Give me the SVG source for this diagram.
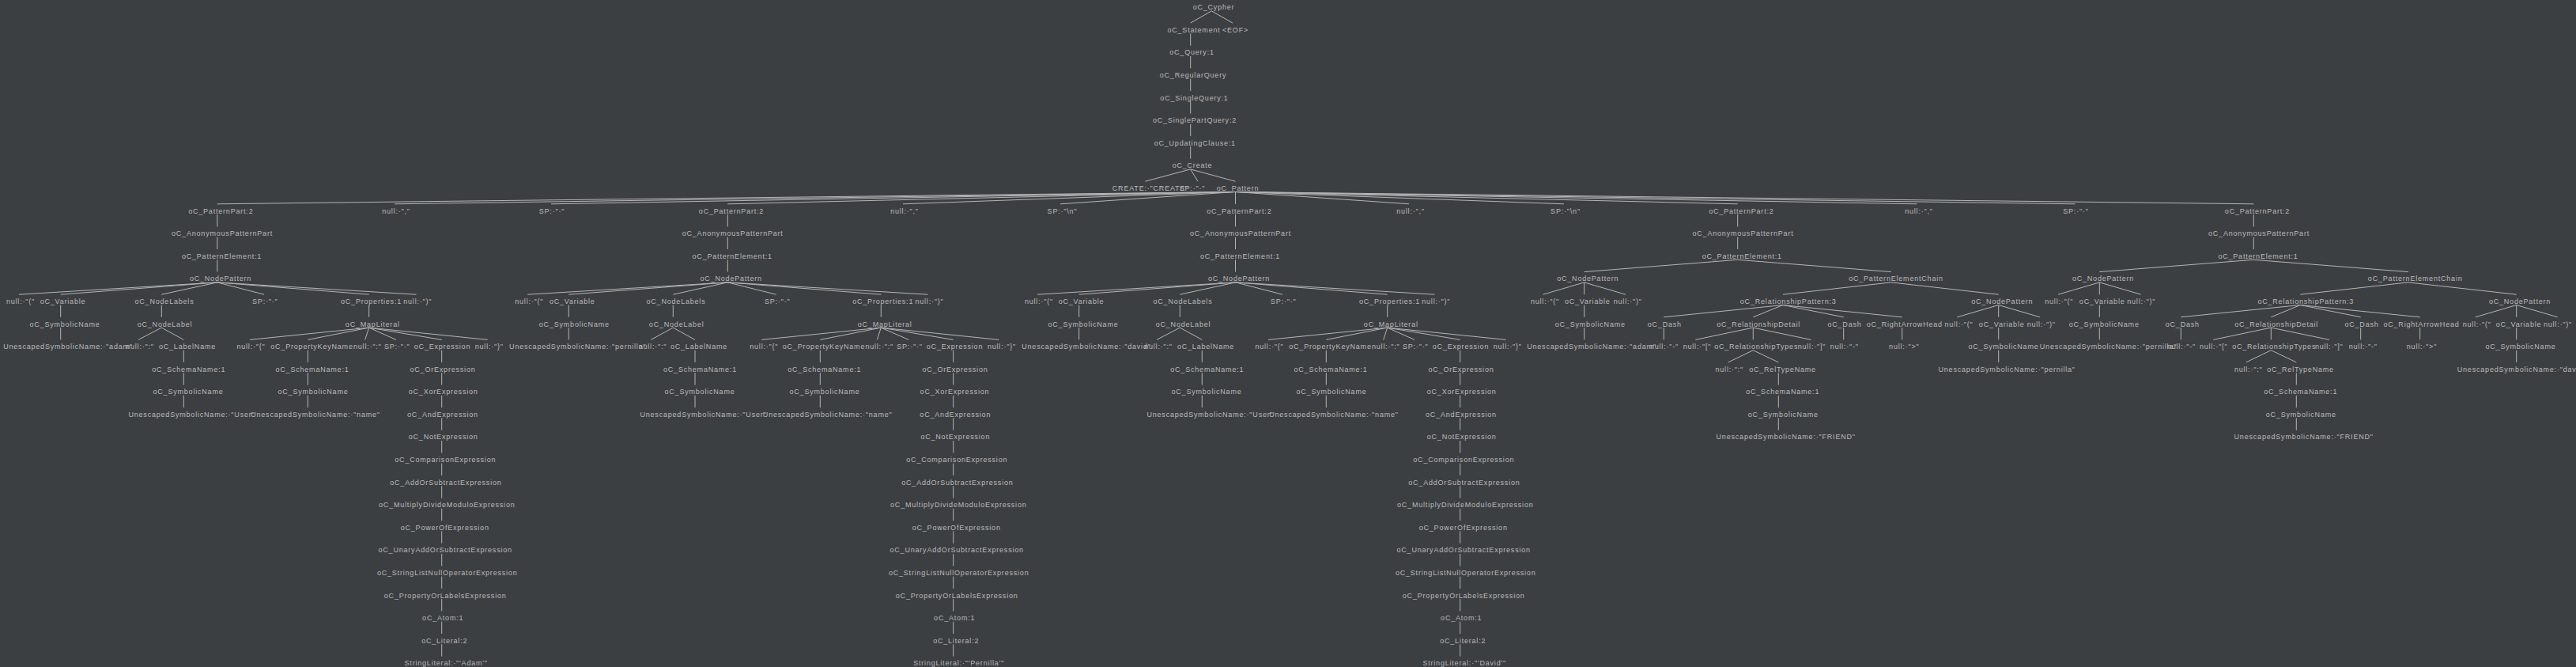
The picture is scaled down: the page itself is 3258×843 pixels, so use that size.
<svg xmlns="http://www.w3.org/2000/svg" width="3258" height="843" viewBox="0 0 3258 843">
<style>
text{font-family:"Liberation Sans",Arial,sans-serif;font-size:9px;letter-spacing:0.8px;fill:#bbbbbb;text-anchor:middle}
line{stroke:#b4b4b4;stroke-width:1}
</style>
<rect x="0" y="0" width="3258" height="843" fill="#3c3f41"/>
<g id="connectors">
<line x1="1532.3" y1="13.8" x2="1505.7" y2="29.1"/><line x1="1532.3" y1="13.8" x2="1559" y2="29.1"/>
<line x1="1505.7" y1="42.4" x2="1505.7" y2="57.7"/><line x1="1505.7" y1="71" x2="1505.7" y2="86.3"/>
<line x1="1505.7" y1="99.6" x2="1505.7" y2="114.9"/><line x1="1505.7" y1="128.2" x2="1505.7" y2="143.5"/>
<line x1="1505.7" y1="156.8" x2="1505.7" y2="172"/><line x1="1505.7" y1="185.3" x2="1505.7" y2="200.6"/>
<line x1="1505.7" y1="213.9" x2="1448.5" y2="229.2"/><line x1="1505.7" y1="213.9" x2="1515" y2="229.2"/><line x1="1505.7" y1="213.9" x2="1562.5" y2="229.2"/>
<line x1="1562.5" y1="242.5" x2="274.8" y2="257.8"/><line x1="1562.5" y1="242.5" x2="499" y2="257.8"/><line x1="1562.5" y1="242.5" x2="697" y2="257.8"/>
<line x1="1562.5" y1="242.5" x2="920.3" y2="257.8"/><line x1="1562.5" y1="242.5" x2="1142" y2="257.8"/><line x1="1562.5" y1="242.5" x2="1341" y2="257.8"/>
<line x1="1562.5" y1="242.5" x2="1562.5" y2="257.8"/><line x1="1562.5" y1="242.5" x2="1782" y2="257.8"/><line x1="1562.5" y1="242.5" x2="1978" y2="257.8"/>
<line x1="1562.5" y1="242.5" x2="2197.7" y2="257.8"/><line x1="1562.5" y1="242.5" x2="2424.6" y2="257.8"/><line x1="1562.5" y1="242.5" x2="2624.5" y2="257.8"/>
<line x1="1562.5" y1="242.5" x2="2850.3" y2="257.8"/>
<!-- subtree 1 -->
<line x1="274.8" y1="271.1" x2="274.8" y2="286.4"/><line x1="274.8" y1="299.7" x2="274.8" y2="315"/><line x1="274.8" y1="328.3" x2="274.8" y2="343.6"/>
<line x1="274.8" y1="356.9" x2="24" y2="372.2"/><line x1="274.8" y1="356.9" x2="76.7" y2="372.2"/><line x1="274.8" y1="356.9" x2="204.3" y2="372.2"/>
<line x1="274.8" y1="356.9" x2="334" y2="372.2"/><line x1="274.8" y1="356.9" x2="466.7" y2="372.2"/><line x1="274.8" y1="356.9" x2="526.5" y2="372.2"/>
<line x1="76.7" y1="385.5" x2="76.7" y2="400.8"/><line x1="204.3" y1="385.5" x2="204.3" y2="400.8"/><line x1="466.7" y1="385.5" x2="466.7" y2="400.8"/>
<line x1="76.7" y1="414.1" x2="76.7" y2="429.4"/><line x1="204.3" y1="414.1" x2="175" y2="429.4"/><line x1="204.3" y1="414.1" x2="232.3" y2="429.4"/>
<line x1="466.7" y1="414.1" x2="316" y2="429.4"/><line x1="466.7" y1="414.1" x2="389.3" y2="429.4"/><line x1="466.7" y1="414.1" x2="461.7" y2="429.4"/>
<line x1="466.7" y1="414.1" x2="501" y2="429.4"/><line x1="466.7" y1="414.1" x2="558.7" y2="429.4"/><line x1="466.7" y1="414.1" x2="616.7" y2="429.4"/>
<line x1="232.3" y1="442.7" x2="232.3" y2="457.9"/><line x1="389.3" y1="442.7" x2="389.3" y2="457.9"/><line x1="558.7" y1="442.7" x2="558.7" y2="457.9"/>
<line x1="232.3" y1="471.2" x2="232.3" y2="486.5"/><line x1="389.3" y1="471.2" x2="389.3" y2="486.5"/><line x1="558.7" y1="471.2" x2="558.7" y2="486.5"/>
<line x1="232.3" y1="499.8" x2="232.3" y2="515.1"/><line x1="389.3" y1="499.8" x2="389.3" y2="515.1"/><line x1="558.7" y1="499.8" x2="558.7" y2="515.1"/>
<line x1="558.7" y1="528.4" x2="558.7" y2="543.7"/><line x1="558.7" y1="557" x2="558.7" y2="572.3"/><line x1="558.7" y1="585.6" x2="558.7" y2="600.9"/>
<line x1="558.7" y1="614.2" x2="558.7" y2="629.5"/><line x1="558.7" y1="642.8" x2="558.7" y2="658.1"/><line x1="558.7" y1="671.4" x2="558.7" y2="686.7"/>
<line x1="558.7" y1="700" x2="558.7" y2="715.3"/><line x1="558.7" y1="728.6" x2="558.7" y2="743.8"/><line x1="558.7" y1="757.1" x2="558.7" y2="772.4"/>
<line x1="558.7" y1="785.7" x2="558.7" y2="801"/><line x1="558.7" y1="814.3" x2="558.7" y2="829.6"/>
<!-- subtree 2 -->
<line x1="920.3" y1="271.1" x2="920.3" y2="286.4"/><line x1="920.3" y1="299.7" x2="920.3" y2="315"/><line x1="920.3" y1="328.3" x2="920.3" y2="343.6"/>
<line x1="920.3" y1="356.9" x2="667.3" y2="372.2"/><line x1="920.3" y1="356.9" x2="719.3" y2="372.2"/><line x1="920.3" y1="356.9" x2="851.3" y2="372.2"/>
<line x1="920.3" y1="356.9" x2="981.7" y2="372.2"/><line x1="920.3" y1="356.9" x2="1114.3" y2="372.2"/><line x1="920.3" y1="356.9" x2="1173.3" y2="372.2"/>
<line x1="719.3" y1="385.5" x2="719.3" y2="400.8"/><line x1="851.3" y1="385.5" x2="851.3" y2="400.8"/><line x1="1114.3" y1="385.5" x2="1114.3" y2="400.8"/>
<line x1="719.3" y1="414.1" x2="719.3" y2="429.4"/><line x1="851.3" y1="414.1" x2="823.3" y2="429.4"/><line x1="851.3" y1="414.1" x2="879" y2="429.4"/>
<line x1="1114.3" y1="414.1" x2="963.3" y2="429.4"/><line x1="1114.3" y1="414.1" x2="1037.3" y2="429.4"/><line x1="1114.3" y1="414.1" x2="1109.3" y2="429.4"/>
<line x1="1114.3" y1="414.1" x2="1149.3" y2="429.4"/><line x1="1114.3" y1="414.1" x2="1205.7" y2="429.4"/><line x1="1114.3" y1="414.1" x2="1263.3" y2="429.4"/>
<line x1="879" y1="442.7" x2="879" y2="457.9"/><line x1="1037.3" y1="442.7" x2="1037.3" y2="457.9"/><line x1="1205.7" y1="442.7" x2="1205.7" y2="457.9"/>
<line x1="879" y1="471.2" x2="879" y2="486.5"/><line x1="1037.3" y1="471.2" x2="1037.3" y2="486.5"/><line x1="1205.7" y1="471.2" x2="1205.7" y2="486.5"/>
<line x1="879" y1="499.8" x2="879" y2="515.1"/><line x1="1037.3" y1="499.8" x2="1037.3" y2="515.1"/><line x1="1205.7" y1="499.8" x2="1205.7" y2="515.1"/>
<line x1="1205.7" y1="528.4" x2="1205.7" y2="543.7"/><line x1="1205.7" y1="557" x2="1205.7" y2="572.3"/><line x1="1205.7" y1="585.6" x2="1205.7" y2="600.9"/>
<line x1="1205.7" y1="614.2" x2="1205.7" y2="629.5"/><line x1="1205.7" y1="642.8" x2="1205.7" y2="658.1"/><line x1="1205.7" y1="671.4" x2="1205.7" y2="686.7"/>
<line x1="1205.7" y1="700" x2="1205.7" y2="715.3"/><line x1="1205.7" y1="728.6" x2="1205.7" y2="743.8"/><line x1="1205.7" y1="757.1" x2="1205.7" y2="772.4"/>
<line x1="1205.7" y1="785.7" x2="1205.7" y2="801"/><line x1="1205.7" y1="814.3" x2="1205.7" y2="829.6"/>
<!-- subtree 3 -->
<line x1="1562.5" y1="271.1" x2="1562.5" y2="286.4"/><line x1="1562.5" y1="299.7" x2="1562.5" y2="315"/><line x1="1562.5" y1="328.3" x2="1562.5" y2="343.6"/>
<line x1="1562.8" y1="356.9" x2="1312" y2="372.2"/><line x1="1562.8" y1="356.9" x2="1364.7" y2="372.2"/><line x1="1562.8" y1="356.9" x2="1492.3" y2="372.2"/>
<line x1="1562.8" y1="356.9" x2="1622" y2="372.2"/><line x1="1562.8" y1="356.9" x2="1754.7" y2="372.2"/><line x1="1562.8" y1="356.9" x2="1814.5" y2="372.2"/>
<line x1="1364.7" y1="385.5" x2="1364.7" y2="400.8"/><line x1="1492.3" y1="385.5" x2="1492.3" y2="400.8"/><line x1="1754.7" y1="385.5" x2="1754.7" y2="400.8"/>
<line x1="1364.7" y1="414.1" x2="1364.7" y2="429.4"/><line x1="1492.3" y1="414.1" x2="1463" y2="429.4"/><line x1="1492.3" y1="414.1" x2="1520.3" y2="429.4"/>
<line x1="1754.7" y1="414.1" x2="1604" y2="429.4"/><line x1="1754.7" y1="414.1" x2="1677.3" y2="429.4"/><line x1="1754.7" y1="414.1" x2="1749.7" y2="429.4"/>
<line x1="1754.7" y1="414.1" x2="1789" y2="429.4"/><line x1="1754.7" y1="414.1" x2="1846.7" y2="429.4"/><line x1="1754.7" y1="414.1" x2="1904.7" y2="429.4"/>
<line x1="1520.3" y1="442.7" x2="1520.3" y2="457.9"/><line x1="1677.3" y1="442.7" x2="1677.3" y2="457.9"/><line x1="1846.7" y1="442.7" x2="1846.7" y2="457.9"/>
<line x1="1520.3" y1="471.2" x2="1520.3" y2="486.5"/><line x1="1677.3" y1="471.2" x2="1677.3" y2="486.5"/><line x1="1846.7" y1="471.2" x2="1846.7" y2="486.5"/>
<line x1="1520.3" y1="499.8" x2="1520.3" y2="515.1"/><line x1="1677.3" y1="499.8" x2="1677.3" y2="515.1"/><line x1="1846.7" y1="499.8" x2="1846.7" y2="515.1"/>
<line x1="1846.7" y1="528.4" x2="1846.7" y2="543.7"/><line x1="1846.7" y1="557" x2="1846.7" y2="572.3"/><line x1="1846.7" y1="585.6" x2="1846.7" y2="600.9"/>
<line x1="1846.7" y1="614.2" x2="1846.7" y2="629.5"/><line x1="1846.7" y1="642.8" x2="1846.7" y2="658.1"/><line x1="1846.7" y1="671.4" x2="1846.7" y2="686.7"/>
<line x1="1846.7" y1="700" x2="1846.7" y2="715.3"/><line x1="1846.7" y1="728.6" x2="1846.7" y2="743.8"/><line x1="1846.7" y1="757.1" x2="1846.7" y2="772.4"/>
<line x1="1846.7" y1="785.7" x2="1846.7" y2="801"/><line x1="1846.7" y1="814.3" x2="1846.7" y2="829.6"/>
<!-- subtree 4 -->
<line x1="2197.7" y1="271.1" x2="2197.7" y2="286.4"/><line x1="2197.7" y1="299.7" x2="2197.7" y2="315"/>
<line x1="2197.7" y1="328.3" x2="2003.7" y2="343.6"/><line x1="2197.7" y1="328.3" x2="2391.7" y2="343.6"/>
<line x1="2003.7" y1="356.9" x2="1951.7" y2="372.2"/><line x1="2003.7" y1="356.9" x2="2003.7" y2="372.2"/><line x1="2003.7" y1="356.9" x2="2056" y2="372.2"/>
<line x1="2391.7" y1="356.9" x2="2255" y2="372.2"/><line x1="2391.7" y1="356.9" x2="2527.7" y2="372.2"/>
<line x1="2003.7" y1="385.5" x2="2003.7" y2="400.8"/>
<line x1="2255" y1="385.5" x2="2104.3" y2="400.8"/><line x1="2255" y1="385.5" x2="2217.3" y2="400.8"/><line x1="2255" y1="385.5" x2="2331.7" y2="400.8"/><line x1="2255" y1="385.5" x2="2405.7" y2="400.8"/>
<line x1="2527.7" y1="385.5" x2="2475.3" y2="400.8"/><line x1="2527.7" y1="385.5" x2="2527.7" y2="400.8"/><line x1="2527.7" y1="385.5" x2="2580" y2="400.8"/>
<line x1="2003.7" y1="414.1" x2="2003.7" y2="429.4"/><line x1="2104.3" y1="414.1" x2="2104.3" y2="429.4"/>
<line x1="2217.3" y1="414.1" x2="2144.3" y2="429.4"/><line x1="2217.3" y1="414.1" x2="2217.3" y2="429.4"/><line x1="2217.3" y1="414.1" x2="2290.5" y2="429.4"/>
<line x1="2331.7" y1="414.1" x2="2331.7" y2="429.4"/><line x1="2405.7" y1="414.1" x2="2405.7" y2="429.4"/><line x1="2527.7" y1="414.1" x2="2527.7" y2="429.4"/>
<line x1="2217.3" y1="442.7" x2="2185.7" y2="457.9"/><line x1="2217.3" y1="442.7" x2="2249.3" y2="457.9"/><line x1="2527.7" y1="442.7" x2="2527.7" y2="457.9"/>
<line x1="2249.3" y1="471.2" x2="2249.3" y2="486.5"/><line x1="2249.3" y1="499.8" x2="2249.3" y2="515.1"/><line x1="2249.3" y1="528.4" x2="2249.3" y2="543.7"/>
<!-- subtree 5 -->
<line x1="2850.3" y1="271.1" x2="2850.3" y2="286.4"/><line x1="2850.3" y1="299.7" x2="2850.3" y2="315"/>
<line x1="2850.3" y1="328.3" x2="2655.3" y2="343.6"/><line x1="2850.3" y1="328.3" x2="3045.7" y2="343.6"/>
<line x1="2655.3" y1="356.9" x2="2603" y2="372.2"/><line x1="2655.3" y1="356.9" x2="2655.3" y2="372.2"/><line x1="2655.3" y1="356.9" x2="2707.7" y2="372.2"/>
<line x1="3045.7" y1="356.9" x2="2909.3" y2="372.2"/><line x1="3045.7" y1="356.9" x2="3182.7" y2="372.2"/>
<line x1="2655.3" y1="385.5" x2="2655.3" y2="400.8"/>
<line x1="2909.3" y1="385.5" x2="2758.3" y2="400.8"/><line x1="2909.3" y1="385.5" x2="2872.3" y2="400.8"/><line x1="2909.3" y1="385.5" x2="2985.7" y2="400.8"/><line x1="2909.3" y1="385.5" x2="3060.7" y2="400.8"/>
<line x1="3182.7" y1="385.5" x2="3130.7" y2="400.8"/><line x1="3182.7" y1="385.5" x2="3182.7" y2="400.8"/><line x1="3182.7" y1="385.5" x2="3234.7" y2="400.8"/>
<line x1="2655.3" y1="414.1" x2="2655.3" y2="429.4"/><line x1="2758.3" y1="414.1" x2="2758.3" y2="429.4"/>
<line x1="2872.3" y1="414.1" x2="2799.3" y2="429.4"/><line x1="2872.3" y1="414.1" x2="2872.3" y2="429.4"/><line x1="2872.3" y1="414.1" x2="2946" y2="429.4"/>
<line x1="2985.7" y1="414.1" x2="2985.7" y2="429.4"/><line x1="3060.7" y1="414.1" x2="3060.7" y2="429.4"/><line x1="3182.7" y1="414.1" x2="3182.7" y2="429.4"/>
<line x1="2872.3" y1="442.7" x2="2840.7" y2="457.9"/><line x1="2872.3" y1="442.7" x2="2904.3" y2="457.9"/><line x1="3182.7" y1="442.7" x2="3182.7" y2="457.9"/>
<line x1="2904.3" y1="471.2" x2="2904.3" y2="486.5"/><line x1="2904.3" y1="499.8" x2="2904.3" y2="515.1"/><line x1="2904.3" y1="528.4" x2="2904.3" y2="543.7"/>
</g>
<g id="n_cypher"><text x="1535" y="12.2">oC_Cypher</text></g>
<g id="n_statement"><text x="1510" y="40.8">oC_Statement</text></g>
<g id="n_eof"><text x="1562.5" y="40.8">&lt;EOF&gt;</text></g>
<g id="n_query"><text x="1507.5" y="69.4">oC_Query:1</text></g>
<g id="n_regularquery"><text x="1509" y="98">oC_RegularQuery</text></g>
<g id="n_singlequery"><text x="1510.5" y="126.6">oC_SingleQuery:1</text></g>
<g id="n_singlepartquery"><text x="1511" y="155.2">oC_SinglePartQuery:2</text></g>
<g id="n_updatingclause"><text x="1511.3" y="183.7">oC_UpdatingClause:1</text></g>
<g id="n_create"><text x="1508" y="212.3">oC_Create</text></g>
<g id="n_CREATE"><text x="1455" y="240.9">CREATE:·"CREATE"</text></g>
<g id="n_sp0"><text x="1508" y="240.9">SP:·"·"</text></g>
<g id="n_pattern"><text x="1565.5" y="240.9">oC_Pattern</text></g>
<g id="n_comma1"><text x="501" y="269.5">null:·","</text></g>
<g id="n_sp1"><text x="698" y="269.5">SP:·"·"</text></g>
<g id="n_comma2"><text x="1144" y="269.5">null:·","</text></g>
<g id="n_sp2"><text x="1343.5" y="269.5">SP:·"\n"</text></g>
<g id="n_comma3"><text x="1784" y="269.5">null:·","</text></g>
<g id="n_sp3"><text x="1980" y="269.5">SP:·"\n"</text></g>
<g id="n_comma4"><text x="2427" y="269.5">null:·","</text></g>
<g id="n_sp4"><text x="2625.5" y="269.5">SP:·"·"</text></g>
<!-- subtree 1 nodes -->
<g id="a_pp"><text x="279.3" y="269.5">oC_PatternPart:2</text></g>
<g id="a_an"><text x="281" y="298.1">oC_AnonymousPatternPart</text></g>
<g id="a_pe"><text x="280.5" y="326.7">oC_PatternElement:1</text></g>
<g id="a_np"><text x="279" y="355.3">oC_NodePattern</text></g>
<g id="a_lp"><text x="26" y="383.9">null:·"("</text></g>
<g id="a_var"><text x="79.5" y="383.9">oC_Variable</text></g>
<g id="a_nls"><text x="208" y="383.9">oC_NodeLabels</text></g>
<g id="a_sp"><text x="335.3" y="383.9">SP:·"·"</text></g>
<g id="a_prop"><text x="469.5" y="383.9">oC_Properties:1</text></g>
<g id="a_rp"><text x="528.3" y="383.9">null:·")"</text></g>
<g id="a_sym"><text x="82" y="412.5">oC_SymbolicName</text></g>
<g id="a_nl"><text x="208.5" y="412.5">oC_NodeLabel</text></g>
<g id="a_map"><text x="471.3" y="412.5">oC_MapLiteral</text></g>
<g id="a_usn"><text x="86" y="441.1">UnescapedSymbolicName:·"adam"</text></g>
<g id="a_col"><text x="177" y="441.1">null:·":"</text></g>
<g id="a_lbl"><text x="237" y="441.1">oC_LabelName</text></g>
<g id="a_lb"><text x="317.5" y="441.1">null:·"{"</text></g>
<g id="a_pkn"><text x="394.5" y="441.1">oC_PropertyKeyName</text></g>
<g id="a_col2"><text x="464.8" y="441.1">null:·":"</text></g>
<g id="a_sp2"><text x="502.2" y="441.1">SP:·"·"</text></g>
<g id="a_expr"><text x="559.5" y="441.1">oC_Expression</text></g>
<g id="a_rb"><text x="618.8" y="441.1">null:·"}"</text></g>
<g id="a_sch1"><text x="238.8" y="469.6">oC_SchemaName:1</text></g>
<g id="a_sch2"><text x="395" y="469.6">oC_SchemaName:1</text></g>
<g id="a_or"><text x="560" y="469.6">oC_OrExpression</text></g>
<g id="a_sym1"><text x="238" y="498.2">oC_SymbolicName</text></g>
<g id="a_sym2"><text x="396" y="498.2">oC_SymbolicName</text></g>
<g id="a_xor"><text x="560.7" y="498.2">oC_XorExpression</text></g>
<g id="a_usn1"><text x="242.5" y="526.8">UnescapedSymbolicName:·"User"</text></g>
<g id="a_usn2"><text x="399" y="526.8">UnescapedSymbolicName:·"name"</text></g>
<g id="a_and"><text x="560" y="526.8">oC_AndExpression</text></g>
<g id="a_not"><text x="560.7" y="555.4">oC_NotExpression</text></g>
<g id="a_cmp"><text x="563.3" y="584">oC_ComparisonExpression</text></g>
<g id="a_add"><text x="563.9" y="612.6">oC_AddOrSubtractExpression</text></g>
<g id="a_mul"><text x="565.3" y="641.2">oC_MultiplyDivideModuloExpression</text></g>
<g id="a_pow"><text x="562.7" y="669.8">oC_PowerOfExpression</text></g>
<g id="a_una"><text x="563.2" y="698.4">oC_UnaryAddOrSubtractExpression</text></g>
<g id="a_sln"><text x="565.7" y="727">oC_StringListNullOperatorExpression</text></g>
<g id="a_pol"><text x="563.2" y="755.5">oC_PropertyOrLabelsExpression</text></g>
<g id="a_atom"><text x="560.2" y="784.1">oC_Atom:1</text></g>
<g id="a_lit"><text x="562.2" y="812.7">oC_Literal:2</text></g>
<g id="a_str"><text x="564.2" y="841.3">StringLiteral:·"'Adam'"</text></g>
<!-- subtree 2 nodes -->
<g id="b_pp"><text x="925" y="269.5">oC_PatternPart:2</text></g>
<g id="b_an"><text x="926.7" y="298.1">oC_AnonymousPatternPart</text></g>
<g id="b_pe"><text x="926.2" y="326.7">oC_PatternElement:1</text></g>
<g id="b_np"><text x="924.7" y="355.3">oC_NodePattern</text></g>
<g id="b_lp"><text x="669.3" y="383.9">null:·"("</text></g>
<g id="b_var"><text x="723.8" y="383.9">oC_Variable</text></g>
<g id="b_nls"><text x="855" y="383.9">oC_NodeLabels</text></g>
<g id="b_sp"><text x="983.3" y="383.9">SP:·"·"</text></g>
<g id="b_prop"><text x="1116.7" y="383.9">oC_Properties:1</text></g>
<g id="b_rp"><text x="1175.5" y="383.9">null:·")"</text></g>
<g id="b_sym"><text x="726.3" y="412.5">oC_SymbolicName</text></g>
<g id="b_nl"><text x="855.7" y="412.5">oC_NodeLabel</text></g>
<g id="b_map"><text x="1119.2" y="412.5">oC_MapLiteral</text></g>
<g id="b_usn"><text x="730.8" y="441.1">UnescapedSymbolicName:·"pernilla"</text></g>
<g id="b_col"><text x="825.5" y="441.1">null:·":"</text></g>
<g id="b_lbl"><text x="884" y="441.1">oC_LabelName</text></g>
<g id="b_lb"><text x="966.3" y="441.1">null:·"{"</text></g>
<g id="b_pkn"><text x="1042" y="441.1">oC_PropertyKeyName</text></g>
<g id="b_col2"><text x="1112.2" y="441.1">null:·":"</text></g>
<g id="b_sp2"><text x="1150.5" y="441.1">SP:·"·"</text></g>
<g id="b_expr"><text x="1207.5" y="441.1">oC_Expression</text></g>
<g id="b_rb"><text x="1267" y="441.1">null:·"}"</text></g>
<g id="b_sch1"><text x="885.5" y="469.6">oC_SchemaName:1</text></g>
<g id="b_sch2"><text x="1042.8" y="469.6">oC_SchemaName:1</text></g>
<g id="b_or"><text x="1208" y="469.6">oC_OrExpression</text></g>
<g id="b_sym1"><text x="885" y="498.2">oC_SymbolicName</text></g>
<g id="b_sym2"><text x="1043" y="498.2">oC_SymbolicName</text></g>
<g id="b_xor"><text x="1207.5" y="498.2">oC_XorExpression</text></g>
<g id="b_usn1"><text x="889.5" y="526.8">UnescapedSymbolicName:·"User"</text></g>
<g id="b_usn2"><text x="1046.7" y="526.8">UnescapedSymbolicName:·"name"</text></g>
<g id="b_and"><text x="1208.3" y="526.8">oC_AndExpression</text></g>
<g id="b_not"><text x="1208.3" y="555.4">oC_NotExpression</text></g>
<g id="b_cmp"><text x="1210.3" y="584">oC_ComparisonExpression</text></g>
<g id="b_add"><text x="1210.9" y="612.6">oC_AddOrSubtractExpression</text></g>
<g id="b_mul"><text x="1212.3" y="641.2">oC_MultiplyDivideModuloExpression</text></g>
<g id="b_pow"><text x="1209.7" y="669.8">oC_PowerOfExpression</text></g>
<g id="b_una"><text x="1210.2" y="698.4">oC_UnaryAddOrSubtractExpression</text></g>
<g id="b_sln"><text x="1212.7" y="727">oC_StringListNullOperatorExpression</text></g>
<g id="b_pol"><text x="1210.2" y="755.5">oC_PropertyOrLabelsExpression</text></g>
<g id="b_atom"><text x="1207.2" y="784.1">oC_Atom:1</text></g>
<g id="b_lit"><text x="1209.2" y="812.7">oC_Literal:2</text></g>
<g id="b_str"><text x="1212.7" y="841.3">StringLiteral:·"'Pernilla'"</text></g>
<!-- subtree 3 nodes -->
<g id="c_pp"><text x="1567.3" y="269.5">oC_PatternPart:2</text></g>
<g id="c_an"><text x="1569" y="298.1">oC_AnonymousPatternPart</text></g>
<g id="c_pe"><text x="1568.5" y="326.7">oC_PatternElement:1</text></g>
<g id="c_np"><text x="1567" y="355.3">oC_NodePattern</text></g>
<g id="c_lp"><text x="1314" y="383.9">null:·"("</text></g>
<g id="c_var"><text x="1367.5" y="383.9">oC_Variable</text></g>
<g id="c_nls"><text x="1496" y="383.9">oC_NodeLabels</text></g>
<g id="c_sp"><text x="1623.3" y="383.9">SP:·"·"</text></g>
<g id="c_prop"><text x="1757.5" y="383.9">oC_Properties:1</text></g>
<g id="c_rp"><text x="1816.3" y="383.9">null:·")"</text></g>
<g id="c_sym"><text x="1370" y="412.5">oC_SymbolicName</text></g>
<g id="c_nl"><text x="1496.5" y="412.5">oC_NodeLabel</text></g>
<g id="c_map"><text x="1759.3" y="412.5">oC_MapLiteral</text></g>
<g id="c_usn"><text x="1374" y="441.1">UnescapedSymbolicName:·"david"</text></g>
<g id="c_col"><text x="1465" y="441.1">null:·":"</text></g>
<g id="c_lbl"><text x="1525" y="441.1">oC_LabelName</text></g>
<g id="c_lb"><text x="1605.5" y="441.1">null:·"{"</text></g>
<g id="c_pkn"><text x="1682.5" y="441.1">oC_PropertyKeyName</text></g>
<g id="c_col2"><text x="1752.8" y="441.1">null:·":"</text></g>
<g id="c_sp2"><text x="1790.2" y="441.1">SP:·"·"</text></g>
<g id="c_expr"><text x="1847.5" y="441.1">oC_Expression</text></g>
<g id="c_rb"><text x="1906.8" y="441.1">null:·"}"</text></g>
<g id="c_sch1"><text x="1526.8" y="469.6">oC_SchemaName:1</text></g>
<g id="c_sch2"><text x="1683" y="469.6">oC_SchemaName:1</text></g>
<g id="c_or"><text x="1848" y="469.6">oC_OrExpression</text></g>
<g id="c_sym1"><text x="1526" y="498.2">oC_SymbolicName</text></g>
<g id="c_sym2"><text x="1684" y="498.2">oC_SymbolicName</text></g>
<g id="c_xor"><text x="1848.7" y="498.2">oC_XorExpression</text></g>
<g id="c_usn1"><text x="1530.5" y="526.8">UnescapedSymbolicName:·"User"</text></g>
<g id="c_usn2"><text x="1687" y="526.8">UnescapedSymbolicName:·"name"</text></g>
<g id="c_and"><text x="1848" y="526.8">oC_AndExpression</text></g>
<g id="c_not"><text x="1848.7" y="555.4">oC_NotExpression</text></g>
<g id="c_cmp"><text x="1851.3" y="584">oC_ComparisonExpression</text></g>
<g id="c_add"><text x="1851.9" y="612.6">oC_AddOrSubtractExpression</text></g>
<g id="c_mul"><text x="1853.3" y="641.2">oC_MultiplyDivideModuloExpression</text></g>
<g id="c_pow"><text x="1850.7" y="669.8">oC_PowerOfExpression</text></g>
<g id="c_una"><text x="1851.2" y="698.4">oC_UnaryAddOrSubtractExpression</text></g>
<g id="c_sln"><text x="1853.7" y="727">oC_StringListNullOperatorExpression</text></g>
<g id="c_pol"><text x="1851.2" y="755.5">oC_PropertyOrLabelsExpression</text></g>
<g id="c_atom"><text x="1848.2" y="784.1">oC_Atom:1</text></g>
<g id="c_lit"><text x="1850.2" y="812.7">oC_Literal:2</text></g>
<g id="c_str"><text x="1852.2" y="841.3">StringLiteral:·"'David'"</text></g>
<!-- subtree 4 nodes -->
<g id="d_pp"><text x="2202.4" y="269.5">oC_PatternPart:2</text></g>
<g id="d_an"><text x="2204.5" y="298.1">oC_AnonymousPatternPart</text></g>
<g id="d_pe"><text x="2203.3" y="326.7">oC_PatternElement:1</text></g>
<g id="d_np"><text x="2008.3" y="355.3">oC_NodePattern</text></g>
<g id="d_pec"><text x="2398" y="355.3">oC_PatternElementChain</text></g>
<g id="d_lp"><text x="1954" y="383.9">null:·"("</text></g>
<g id="d_var"><text x="2007.8" y="383.9">oC_Variable</text></g>
<g id="d_rp"><text x="2058.8" y="383.9">null:·")"</text></g>
<g id="d_rpat"><text x="2261.7" y="383.9">oC_RelationshipPattern:3</text></g>
<g id="d_np2"><text x="2532.3" y="383.9">oC_NodePattern</text></g>
<g id="d_sym"><text x="2011.3" y="412.5">oC_SymbolicName</text></g>
<g id="d_dash"><text x="2105.3" y="412.5">oC_Dash</text></g>
<g id="d_det"><text x="2224.2" y="412.5">oC_RelationshipDetail</text></g>
<g id="d_dash2"><text x="2333" y="412.5">oC_Dash</text></g>
<g id="d_rah"><text x="2408.8" y="412.5">oC_RightArrowHead</text></g>
<g id="d_lp2"><text x="2477.5" y="412.5">null:·"("</text></g>
<g id="d_var2"><text x="2531.7" y="412.5">oC_Variable</text></g>
<g id="d_rp2"><text x="2581.7" y="412.5">null:·")"</text></g>
<g id="d_usn"><text x="2013" y="441.1">UnescapedSymbolicName:·"adam"</text></g>
<g id="d_min"><text x="2105" y="441.1">null:·"-"</text></g>
<g id="d_lbr"><text x="2146.5" y="441.1">null:·"["</text></g>
<g id="d_types"><text x="2221.2" y="441.1">oC_RelationshipTypes</text></g>
<g id="d_rbr"><text x="2291.5" y="441.1">null:·"]"</text></g>
<g id="d_min2"><text x="2332.7" y="441.1">null:·"-"</text></g>
<g id="d_gt"><text x="2408.3" y="441.1">null:·"&gt;"</text></g>
<g id="d_sym2"><text x="2534" y="441.1">oC_SymbolicName</text></g>
<g id="d_col"><text x="2187.3" y="469.6">null:·":"</text></g>
<g id="d_rtn"><text x="2254.5" y="469.6">oC_RelTypeName</text></g>
<g id="d_usn2"><text x="2538.2" y="469.6">UnescapedSymbolicName:·"pernilla"</text></g>
<g id="d_sch"><text x="2254.7" y="498.2">oC_SchemaName:1</text></g>
<g id="d_sym3"><text x="2255.3" y="526.8">oC_SymbolicName</text></g>
<g id="d_usn3"><text x="2258.7" y="555.4">UnescapedSymbolicName:·"FRIEND"</text></g>
<!-- subtree 5 nodes -->
<g id="e_pp"><text x="2855" y="269.5">oC_PatternPart:2</text></g>
<g id="e_an"><text x="2857" y="298.1">oC_AnonymousPatternPart</text></g>
<g id="e_pe"><text x="2856" y="326.7">oC_PatternElement:1</text></g>
<g id="e_np"><text x="2660" y="355.3">oC_NodePattern</text></g>
<g id="e_pec"><text x="3054.7" y="355.3">oC_PatternElementChain</text></g>
<g id="e_lp"><text x="2604.3" y="383.9">null:·"("</text></g>
<g id="e_var"><text x="2658.7" y="383.9">oC_Variable</text></g>
<g id="e_rp"><text x="2708.3" y="383.9">null:·")"</text></g>
<g id="e_rpat"><text x="2916.3" y="383.9">oC_RelationshipPattern:3</text></g>
<g id="e_np2"><text x="3187" y="383.9">oC_NodePattern</text></g>
<g id="e_sym"><text x="2661.2" y="412.5">oC_SymbolicName</text></g>
<g id="e_dash"><text x="2760.3" y="412.5">oC_Dash</text></g>
<g id="e_det"><text x="2879.2" y="412.5">oC_RelationshipDetail</text></g>
<g id="e_dash2"><text x="2987" y="412.5">oC_Dash</text></g>
<g id="e_rah"><text x="3062.5" y="412.5">oC_RightArrowHead</text></g>
<g id="e_lp2"><text x="3132.7" y="412.5">null:·"("</text></g>
<g id="e_var2"><text x="3185.5" y="412.5">oC_Variable</text></g>
<g id="e_rp2"><text x="3235" y="412.5">null:·")"</text></g>
<g id="e_usn"><text x="2666.5" y="441.1">UnescapedSymbolicName:·"pernilla"</text></g>
<g id="e_min"><text x="2759" y="441.1">null:·"-"</text></g>
<g id="e_lbr"><text x="2799.7" y="441.1">null:·"["</text></g>
<g id="e_types"><text x="2876.2" y="441.1">oC_RelationshipTypes</text></g>
<g id="e_rbr"><text x="2945.7" y="441.1">null:·"]"</text></g>
<g id="e_min2"><text x="2988.8" y="441.1">null:·"-"</text></g>
<g id="e_gt"><text x="3063" y="441.1">null:·"&gt;"</text></g>
<g id="e_sym2"><text x="3188" y="441.1">oC_SymbolicName</text></g>
<g id="e_col"><text x="2843.7" y="469.6">null:·":"</text></g>
<g id="e_rtn"><text x="2909.5" y="469.6">oC_RelTypeName</text></g>
<g id="e_usn2"><text x="3189.5" y="469.6">UnescapedSymbolicName:·"david"</text></g>
<g id="e_sch"><text x="2909.7" y="498.2">oC_SchemaName:1</text></g>
<g id="e_sym3"><text x="2910.3" y="526.8">oC_SymbolicName</text></g>
<g id="e_usn3"><text x="2913.7" y="555.4">UnescapedSymbolicName:·"FRIEND"</text></g>
</svg>
